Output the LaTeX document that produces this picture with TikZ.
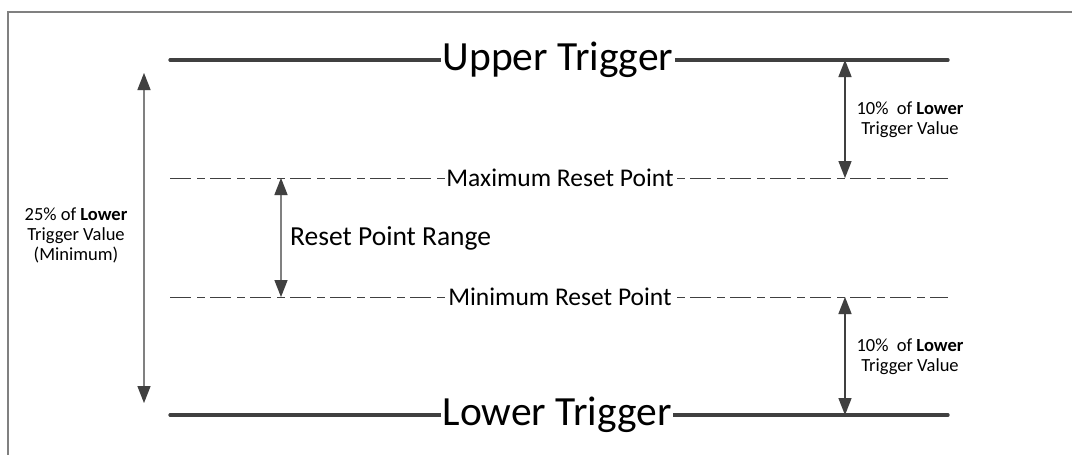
\documentclass[tikz,border=0pt]{standalone}
\usepackage{fontspec}
\setmainfont{Carlito}
\usetikzlibrary{arrows.meta}
\definecolor{dk}{HTML}{404040}
\definecolor{md}{HTML}{808080}
\definecolor{sh}{HTML}{DADADA}
\begin{document}
\begin{tikzpicture}[x=1pt,y=-1pt,
  frame/.style={line width=1.5pt,md},
  trig/.style={line width=3.2pt,dk,line cap=round},
  trigsh/.style={line width=3.2pt,sh,line cap=round},
  dashdot/.style={line width=1pt,dk,dash pattern=on 21pt off 6pt on 8pt off 5pt},
  dashsh/.style={line width=1pt,sh,dash pattern=on 21pt off 6pt on 8pt off 5pt},
  bigl/.style={fill=white,inner xsep=2pt,inner ysep=0pt,font=\fontsize{41.5}{48}\selectfont},
  midl/.style={fill=white,inner xsep=1pt,inner ysep=0pt,font=\fontsize{25.5}{30}\selectfont},
  small/.style={align=center,inner sep=0pt,font=\fontsize{18.5}{20}\selectfont},
  rng/.style={font=\fontsize{27.5}{30}\selectfont,inner sep=0pt,anchor=west},
  dim/.style={line width=1.3pt,{Triangle[width=13pt,length=17pt,color=dk]}-{Triangle[width=13pt,length=17pt,color=dk]}},
  dimsh/.style={line width=1.3pt,sh,{Triangle[width=13pt,length=17pt]}-{Triangle[width=13pt,length=17pt]}}
]
\useasboundingbox (0,0) rectangle (1072,455);
% frame
\coordinate (fb) at (8,460);
\coordinate (ftl) at (8,12);
\coordinate (fr) at (1076,12);
\draw[frame] (fb) -- (ftl) -- (fr);

% level coordinates
\coordinate (utL) at (170,60);   \coordinate (utR) at (948,60);
\coordinate (mxL) at (170,178);  \coordinate (mxR) at (948,178);
\coordinate (mnL) at (170,297);  \coordinate (mnR) at (948,297);
\coordinate (ltL) at (170,415);  \coordinate (ltR) at (948,415);

% arrow end coordinates
\coordinate (aT) at (144,73);   \coordinate (aB) at (144,403);
\coordinate (r1T) at (845,60);  \coordinate (r1B) at (845,178);
\coordinate (r2T) at (845,297); \coordinate (r2B) at (845,415);
\coordinate (rpT) at (281,178); \coordinate (rpB) at (281,297);

% shadows
\begin{scope}[shift={(2,2.5)}]
  \draw[trigsh] (utL) -- (utR);
  \draw[trigsh] (ltL) -- (ltR);
  \draw[dashsh] (mxL) -- (mxR);
  \draw[dashsh] (mnL) -- (mnR);
\end{scope}
\begin{scope}[shift={(3,2)}]
  \draw[dimsh] (aT) -- (aB);
  \draw[dimsh] (r1T) -- (r1B);
  \draw[dimsh] (r2T) -- (r2B);
  \draw[dimsh] (rpT) -- (rpB);
\end{scope}

% level lines
\draw[trig] (utL) -- (utR);
\draw[trig] (ltL) -- (ltR);
\draw[dashdot] (mxL) -- (mxR);
\draw[dashdot] (mnL) -- (mnR);

% level labels
\node[bigl] (ut) at (558,60) {Upper Trigger};
\node[bigl] (lt) at (557,415) {Lower Trigger};
\node[midl] (mx) at (560,178) {Maximum Reset Point};
\node[midl] (mn) at (560,297) {Minimum Reset Point};

% dimension arrows
\draw[dim,md] (aT) -- (aB);
\draw[dim,dk] (r1T) -- (r1B);
\draw[dim,dk] (r2T) -- (r2B);
\draw[dim,md] (rpT) -- (rpB);

% dimension labels
\node[small] (l25) at (76,235) {25\% of \textbf{Lower}\\Trigger Value\\(Minimum)};
\node[small] (l10a) at (910,120) {10\%\ \ of \textbf{Lower}\\Trigger Value};
\node[small] (l10b) at (910,357) {10\%\ \ of \textbf{Lower}\\Trigger Value};
\node[rng] (rpr) at (290,238) {Reset Point Range};
\end{tikzpicture}
\end{document}
